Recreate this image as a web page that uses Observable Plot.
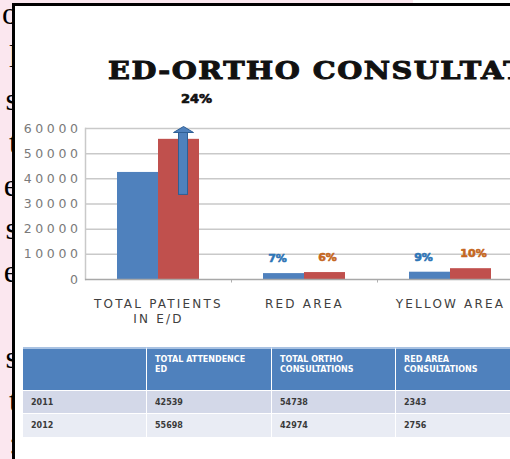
<!DOCTYPE html>
<html>
<head>
<meta charset="utf-8">
<script src="https://cdn.jsdelivr.net/npm/d3@7"></script>
<script src="https://cdn.jsdelivr.net/npm/@observablehq/plot@0.6"></script>
<style>
  html, body { margin:0; padding:0; }
  body { width:510px; height:459px; overflow:hidden; position:relative; background:#fbe7ef; }
  #side { position:absolute; left:-24px; top:-8px; width:42px; text-align:right; font-family:"Liberation Serif", serif; font-size:32px; line-height:43px; color:#000; white-space:pre; }
  #topwhite { position:absolute; left:413px; top:0; width:100px; height:4px; background:#fff; }
  #panel { position:absolute; left:12px; top:3px; width:520px; height:470px; border-left:3px solid #000; border-top:3px solid #000; background:#fff; }
  #title { position:absolute; left:108px; top:58px; white-space:nowrap; font-family:"DejaVu Serif", serif; font-weight:bold; font-size:25px; line-height:25px; letter-spacing:1.3px; color:#111; -webkit-text-stroke:1px #111; transform:scaleX(1.15); transform-origin:0 0; }
  #chart { position:absolute; left:0; top:0; }
  #chart g[aria-label="y-axis tick label"] { font-size:12.5px; }
  #chart g[aria-label="y-axis tick label"] text { letter-spacing:3.6px; }
  #chart g[aria-label="x-axis tick label"] text { letter-spacing:2.2px; }
  #chart g[aria-label="growth"] text { letter-spacing:2.5px; }
  #chart g[aria-label="share"] text { letter-spacing:1.5px; }
  #table { position:absolute; left:23px; top:347px; width:520px; }
  .row { display:flex; }
  .cell { box-sizing:border-box; border-right:1px solid #fff; font-family:"DejaVu Sans", sans-serif; font-weight:bold; font-size:8px; white-space:pre; padding-left:8px; }
  .head .cell { background:#4f81bd; color:#fff; height:43px; padding-top:6px; line-height:10px; border-top:2px solid #a9c2e2; }
  .r1 .cell { background:#d3d8e8; color:#3a3a3a; height:23px; line-height:23px; border-top:1px solid #fff; }
  .r2 .cell { background:#e9ecf4; color:#3a3a3a; height:24px; line-height:24px; border-top:1px solid #fff; }
</style>
</head>
<body>
<div id="side"></div>
<div id="topwhite"></div>
<div id="panel"></div>
<div id="title"></div>
<div id="chart"></div>
<div id="table"></div>
<script>
// ---- data ----
const titleText = "ED-ORTHO CONSULTATIONS";
const categories = ["TOTAL PATIENTS\nIN E/D", "RED AREA", "YELLOW AREA"];
const values2011 = [42539, 2343, 2900];
const values2012 = [55698, 2756, 4300];
const labels2011 = ["", "7%", "9%"];
const labels2012 = ["", "6%", "10%"];
const growthLabel = "24%";
const arrowFrom = 33600;
const arrowHeadBase = 58400;
const arrowTip = 60800;
const yTicks = [0, 10000, 20000, 30000, 40000, 50000, 60000];
const tableHeaders = ["", "TOTAL ATTENDENCE\nED", "TOTAL ORTHO\nCONSULTATIONS", "RED AREA\nCONSULTATIONS"];
const tableYears = ["2011", "2012"];
const tableAttendance = [42539, 55698];
const tableOrtho = [54738, 42974];
const tableRedArea = [2343, 2756];
const sideLetters = ["o", "l", "s", "t", "e", "s", "e", "", "s", "t", ":"];

// ---- decoration text ----
document.getElementById("side").textContent = sideLetters.join("\n");
document.getElementById("title").textContent = titleText;

// ---- chart ----
const rows = categories.map((c, i) => ({category: c, v11: values2011[i], v12: values2012[i], l11: labels2011[i], l12: labels2012[i]}));
const blue = "#4f81bd", red = "#c0504d";
const headSymbol = {
  draw(context, size) {
    context.moveTo(-10, 3);
    context.lineTo(0, -3);
    context.lineTo(10, 3);
    context.closePath();
  }
};

const chart = Plot.plot({
  width: 510,
  height: 330,
  marginLeft: 85,
  marginRight: 0,
  marginTop: 128,
  marginBottom: 51,
  style: {background: "transparent", fontFamily: "'DejaVu Sans', sans-serif", overflow: "visible"},
  x: {domain: categories, range: [85, 523], padding: 0, label: null},
  y: {domain: [0, 60000], range: [279, 128], label: null},
  marks: [
    Plot.ruleY(yTicks.slice(1), {stroke: "#c9c9c9", strokeWidth: 1.5}),
    Plot.frame({anchor: "left", stroke: "#c9c9c9", strokeWidth: 1.5}),
    Plot.ruleX(categories.slice(1), {y1: 0, y2: -1400, dx: -73, stroke: "#b0b0b0"}),
    Plot.barY(rows, {x: "category", y: "v11", fill: blue, insetLeft: 32, insetRight: 73}),
    Plot.barY(rows, {x: "category", y: "v12", fill: red, insetLeft: 73, insetRight: 32}),
    Plot.ruleY([0], {stroke: "#a8a8a8", strokeWidth: 1.5}),
    Plot.barY(rows.slice(0, 1), {x: "category", y1: () => arrowFrom, y2: () => arrowHeadBase, fill: blue, stroke: "#2f5f95", strokeWidth: 1, insetLeft: 93.5, insetRight: 43.5}),
    Plot.dot(rows.slice(0, 1), {x: "category", y: () => (arrowHeadBase + arrowTip) / 2, dx: 25, symbol: headSymbol, fill: blue, stroke: "#2f5f95", strokeWidth: 1}),
    Plot.text(rows.slice(0, 1), {ariaLabel: "growth", x: "category", y: () => arrowTip, dx: 38, dy: -28, text: () => growthLabel, fill: "#111", fontSize: 13, fontWeight: 900, stroke: "#111", strokeWidth: 0.7}),
    Plot.text(rows, {ariaLabel: "share", x: "category", y: "v11", text: "l11", dx: -27, dy: -15, fill: "#2e75b6", fontSize: 11, fontWeight: 900, stroke: "#2e75b6", strokeWidth: 0.6}),
    Plot.text(rows, {ariaLabel: "share", x: "category", y: "v12", text: "l12", dx: 23, dy: -15, fill: "#c5671f", fontSize: 11, fontWeight: 900, stroke: "#c5671f", strokeWidth: 0.6}),
    Plot.axisY({ticks: yTicks, tickSize: 0, tickPadding: 4, tickFormat: d3.format("d"), fill: "#7a7a7a", fontSize: 12.5, label: null}),
    Plot.axisX({tickSize: 0, tickPadding: 17, fill: "#404040", fontSize: 12, lineHeight: 1.3, label: null})
  ]
});
document.getElementById("chart").appendChild(chart);

// ---- table ----
const colWidths = [124, 125, 124, 147];
const tableRows = [tableHeaders].concat(tableYears.map((y, i) => [y, String(tableAttendance[i]), String(tableOrtho[i]), String(tableRedArea[i])]));
const tableEl = document.getElementById("table");
tableRows.forEach((r, ri) => {
  const rowEl = document.createElement("div");
  rowEl.className = "row " + (ri === 0 ? "head" : ri === 1 ? "r1" : "r2");
  r.forEach((t, ci) => {
    const c = document.createElement("div");
    c.className = "cell";
    c.style.width = colWidths[ci] + "px";
    c.textContent = t;
    rowEl.appendChild(c);
  });
  tableEl.appendChild(rowEl);
});
</script>
</body>
</html>
